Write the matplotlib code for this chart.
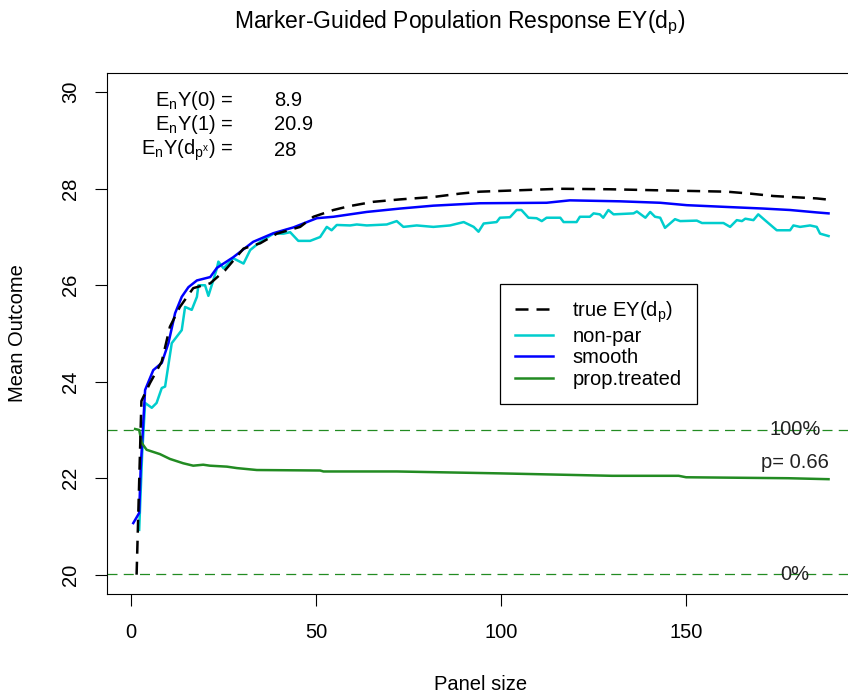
import matplotlib.pyplot as plt
from matplotlib.lines import Line2D

plt.rcParams['font.family'] = ['Liberation Sans', 'DejaVu Sans']
plt.rcParams['mathtext.fontset'] = 'custom'
plt.rcParams['mathtext.rm'] = 'Liberation Sans'
plt.rcParams['mathtext.it'] = 'Liberation Sans:italic'

# true EY(dp)
true_x = [1.5, 2.8, 5.1, 8.3, 10.5, 13.2, 16.8, 21.4, 25.4, 30.4, 34.9, 39.4, 45.7, 49.3, 54.7,
          59, 65.5, 72.7, 81.7, 88.9, 94.3, 105.1, 116, 129.4, 141.4, 161, 167.3, 173.6, 185.3, 187.8]
true_y = [20.0, 23.6, 23.97, 24.42, 25.14, 25.55, 25.94, 26.04, 26.31, 26.76, 26.87, 27.07, 27.21, 27.42, 27.56,
          27.64, 27.73, 27.78, 27.83, 27.9, 27.94, 27.97, 28.0, 27.99, 27.97, 27.94, 27.9, 27.85, 27.8, 27.78]

# non-parametric estimate
np_x = [2.2, 3.0, 3.8, 5.6, 6.9, 8.3, 9.2, 11, 13.7, 14.6, 16.4, 17.8, 18.2, 20, 20.9, 21.8, 23.2, 23.6, 25,
        27.6, 30.4, 32.2, 34.9, 38.5, 41.2, 43, 45.2, 48.4, 51.1, 52.9, 54.2, 55.6, 59.2, 61, 63.7, 69.1,
        71.8, 73.6, 77.2, 81.7, 86.2, 89.9, 92.6, 93.9, 95.3, 98.8, 99.7, 102.4, 104.2, 105.5, 107.4,
        109.6, 111, 112.3, 116, 116.9, 120.4, 121.3, 124, 125, 126.7, 127.6, 129, 130.4, 135.8, 136.7,
        139, 140.3, 141.6, 143, 144.3, 147, 148.4, 152.9, 154.3, 160.1, 161.9, 163.7, 165.1, 166, 168.2,
        169.5, 171.3, 174.5, 178.1, 179, 180.8, 183.5, 185.3, 186.2, 188.5]
np_y = [20.93, 22.5, 23.56, 23.46, 23.56, 23.87, 23.9, 24.8, 25.07, 25.55, 25.49, 25.76, 26.0, 26.0, 25.78,
        26.0, 26.35, 26.49, 26.35, 26.56, 26.45, 26.73, 26.9, 27.07, 27.07, 27.1, 26.92, 26.92, 27.0, 27.21,
        27.14, 27.25, 27.24, 27.26, 27.24, 27.26, 27.33, 27.21, 27.24, 27.21, 27.24, 27.31, 27.21, 27.11,
        27.28, 27.31, 27.4, 27.41, 27.56, 27.56, 27.4, 27.39, 27.33, 27.4, 27.4, 27.31, 27.31, 27.42, 27.42,
        27.49, 27.47, 27.4, 27.56, 27.47, 27.49, 27.53, 27.4, 27.52, 27.42, 27.4, 27.19, 27.37, 27.33, 27.34,
        27.29, 27.29, 27.21, 27.35, 27.33, 27.38, 27.35, 27.47, 27.35, 27.14, 27.14, 27.24, 27.21, 27.24,
        27.21, 27.07, 27.02]

# smoothed estimate
sm_x = [0.6, 2.2, 2.6, 3.8, 6, 8.3, 10.1, 11.9, 13.7, 15.5, 17.8, 21.4, 23.2, 27.6, 33, 38.5, 43.9, 50.2,
        54.7, 63.7, 72.7, 81.7, 94.3, 112.3, 118.6, 132.2, 143, 150.2, 161.9, 170.9, 178.1, 185.3, 188.5]
sm_y = [21.07, 21.28, 22.2, 23.83, 24.24, 24.39, 24.8, 25.42, 25.76, 25.96, 26.1, 26.17, 26.36, 26.58, 26.9,
        27.08, 27.2, 27.39, 27.42, 27.52, 27.59, 27.65, 27.7, 27.71, 27.76, 27.74, 27.71, 27.66, 27.62,
        27.59, 27.56, 27.51, 27.49]

# proportion treated, drawn on the 20..23 band (0%..100%)
pt_x = [1.1, 2.2, 2.9, 4.2, 7.8, 10.5, 14.1, 16.8, 19.5, 21.3, 25.9, 28.6, 34, 51.1, 52, 71.8, 100, 130,
        148, 150, 177.6, 188.5]
pt_y = [23.02, 23.0, 22.73, 22.59, 22.5, 22.4, 22.31, 22.26, 22.28, 22.26, 22.24, 22.21, 22.17, 22.16,
        22.14, 22.14, 22.1, 22.05, 22.05, 22.02, 22.0, 21.98]

est_labels = ['$\\mathrm{E_nY(0)}$ =', '$\\mathrm{E_nY(1)}$ =', '$\\mathrm{E_nY(d_{p^x})}$ =']
est_values = ['8.9', '20.9', '28']

W, H = 848, 697
fig = plt.figure(figsize=(W / 100, H / 100), dpi=100)
ax = fig.add_axes([107 / W, (H - 594) / H, (860 - 107) / W, (594 - 73) / H])
ax.set_xlim(-6.5, 197)
ax.set_ylim(19.6, 30.4)

green = '#228B22'
ax.axhline(23, color=green, lw=0.9, dashes=(8, 5))
ax.axhline(20.01, color=green, lw=0.9, dashes=(8, 5))

ax.plot(np_x, np_y, color='#00CDCD', lw=1.8)
ax.plot(sm_x, sm_y, color='#0000FF', lw=1.8)
ax.plot(pt_x, pt_y, color=green, lw=1.8)
ax.plot(true_x, true_y, color='black', lw=1.8, dashes=(5.2, 3.2))

ax.text(179.5, 23, '100%', ha='center', va='center', fontsize=14.5, color='#222222')
ax.text(179.5, 20, '0%', ha='center', va='center', fontsize=14.5, color='#222222')
ax.text(188.5, 22.32, 'p= 0.66', ha='right', va='center', fontsize=14.5, color='#222222')

rows_y = [29.83, 29.34, 28.8]
for lab, val, yy in zip(est_labels, est_values, rows_y):
    ax.text(27.6, yy, lab, ha='right', va='center', fontsize=14.5)
    ax.text(38.6, yy, val, ha='left', va='center', fontsize=14.5)

handles = [Line2D([], [], color='black', lw=1.8, dashes=(5.2, 3.2)),
           Line2D([], [], color='#00CDCD', lw=1.8),
           Line2D([], [], color='#0000FF', lw=1.8),
           Line2D([], [], color=green, lw=1.8)]
names = ['true $\\mathrm{EY(d_p)}$', 'non-par', 'smooth', 'prop.treated']
leg = ax.legend(handles, names, loc='upper left',
                bbox_to_anchor=((500 - 107) / 753, (594 - 284) / 521),
                fontsize=14.5, frameon=True, fancybox=False, framealpha=1,
                edgecolor='black', borderpad=0.75, labelspacing=0.12,
                handlelength=1.9, handletextpad=0.95, borderaxespad=0)
leg.get_frame().set_linewidth(0.9)

ax.set_xticks([0, 50, 100, 150])
ax.set_yticks([20, 22, 24, 26, 28, 30])
ax.set_yticklabels(['20', '22', '24', '26', '28', '30'], rotation=90, va='center')
ax.tick_params(length=8.6, width=0.8, labelsize=14.5, colors='black')
ax.tick_params(axis='x', pad=12)
ax.tick_params(axis='y', pad=11)
for s in ax.spines.values():
    s.set_linewidth(0.8)

fig.text(460 / W, 1 - 23 / H, 'Marker-Guided Population Response $\\mathrm{EY(d_p)}$',
         ha='center', va='center', fontsize=16.5)
fig.text(481 / W, 1 - 685 / H, 'Panel size', ha='center', va='center', fontsize=14.5)
fig.text(18 / W, 1 - 333 / H, 'Mean Outcome', ha='center', va='center', rotation=90, fontsize=14.5)

fig.savefig('out.png', dpi=100)
